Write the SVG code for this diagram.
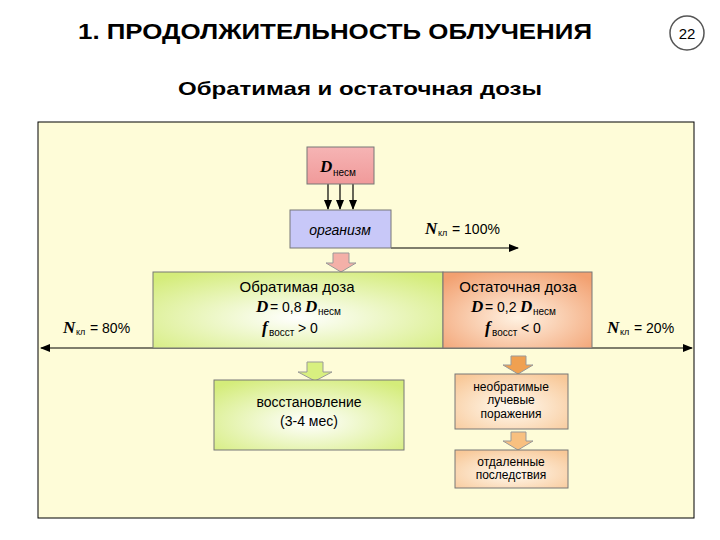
<svg xmlns="http://www.w3.org/2000/svg" width="720" height="540" viewBox="0 0 720 540">
<defs>
<marker id="ah" markerWidth="10" markerHeight="8" refX="9" refY="4" orient="auto" markerUnits="userSpaceOnUse"><path d="M0,0 L10,4 L0,8 z" fill="#000"/></marker>
<radialGradient id="gg" cx="0.5" cy="0.6" r="0.7"><stop offset="0" stop-color="#ffffff"/><stop offset="1" stop-color="#d4ec7a"/></radialGradient>
<radialGradient id="go" cx="0.5" cy="0.6" r="0.7"><stop offset="0" stop-color="#fff2e2"/><stop offset="1" stop-color="#f2a070"/></radialGradient>
<radialGradient id="gl" cx="0.5" cy="0.6" r="0.7"><stop offset="0" stop-color="#fffaf0"/><stop offset="1" stop-color="#f8c898"/></radialGradient>
<linearGradient id="gp" x1="0" y1="0" x2="0" y2="1"><stop offset="0" stop-color="#f6b4b4"/><stop offset="1" stop-color="#f09a9a"/></linearGradient>
</defs>
<style>
text{font-family:"Liberation Sans",Arial,sans-serif;fill:#000}
.b{font-weight:bold}
.s{font-family:"Liberation Serif","Times New Roman",serif;font-weight:bold;font-style:italic}
.box{stroke:#777;stroke-width:1}
.ln{stroke:#000;stroke-width:1.2;fill:none}
</style>
<rect width="720" height="540" fill="#fff"/>
<text x="78" y="39" font-size="22" class="b" fill="#222" textLength="514" lengthAdjust="spacingAndGlyphs">1. ПРОДОЛЖИТЕЛЬНОСТЬ ОБЛУЧЕНИЯ</text>
<circle cx="687" cy="33" r="17" fill="#fff" stroke="#555" stroke-width="1.5"/>
<text x="687" y="39" font-size="15" text-anchor="middle">22</text>
<text x="178" y="95" font-size="19" class="b" textLength="364" lengthAdjust="spacingAndGlyphs">Обратимая и остаточная дозы</text>
<rect x="38" y="122" width="656" height="396" fill="#fefcd8" stroke="#000"/>
<g id="connectors">
<line class="ln" x1="328" y1="184" x2="328" y2="209" marker-end="url(#ah)"/>
<line class="ln" x1="340" y1="184" x2="340" y2="209" marker-end="url(#ah)" stroke-width="2"/>
<line class="ln" x1="353" y1="184" x2="353" y2="209" marker-end="url(#ah)"/>
<line class="ln" x1="391" y1="248" x2="518" y2="248" marker-end="url(#ah)"/>
<line class="ln" x1="360" y1="348" x2="41" y2="348" marker-end="url(#ah)"/>
<line class="ln" x1="360" y1="348" x2="692" y2="348" marker-end="url(#ah)"/>
<path d="M333,253 H349 V263 H356 L341,272 L326,263 H333 Z" fill="#f4b0a8" stroke="#999"/>
<path d="M307,362 H323 V372 H332 L315,381 L298,372 H307 Z" fill="#d8f080" stroke="#999"/>
<path d="M511,356 H526 V365 H533 L518,374 L503,365 H511 Z" fill="#f0a050" stroke="#999"/>
<path d="M511,432 H526 V441 H533 L518,450 L503,441 H511 Z" fill="#f8c080" stroke="#999"/>
</g>
<g id="dnesm"><rect class="box" x="307" y="147" width="67" height="37" fill="url(#gp)"/>
<text x="320" y="172" font-size="17" class="s">D</text><text x="333" y="176" font-size="10">несм</text></g>
<g id="organizm"><rect class="box" x="290" y="210" width="101" height="38" fill="#c8c8f8"/>
<text x="340" y="235" font-size="14" font-style="italic" text-anchor="middle">организм</text></g>
<g id="nkl100"><text x="425" y="234" font-size="17" class="s">N</text><text x="438" y="236" font-size="9">кл</text><text x="452" y="234" font-size="14">= 100%</text></g>
<g id="obr"><rect class="box" x="153" y="272" width="290" height="76" fill="url(#gg)"/>
<text x="297" y="292" font-size="15" text-anchor="middle">Обратимая доза</text>
<text x="256" y="312" font-size="17" class="s">D</text><text x="270" y="312" font-size="14">= 0,8</text><text x="305" y="312" font-size="17" class="s">D</text><text x="318" y="315" font-size="10">несм</text>
<text x="262" y="333" font-size="17" class="s">f</text><text x="269" y="336" font-size="10">восст</text><text x="298" y="333" font-size="14">&gt; 0</text></g>
<g id="ost"><rect class="box" x="443" y="272" width="149" height="76" fill="url(#go)"/>
<text x="518" y="292" font-size="15" text-anchor="middle">Остаточная доза</text>
<text x="471" y="312" font-size="17" class="s">D</text><text x="485" y="312" font-size="14">= 0,2</text><text x="520" y="312" font-size="17" class="s">D</text><text x="533" y="315" font-size="10">несм</text>
<text x="485" y="333" font-size="17" class="s">f</text><text x="492" y="336" font-size="10">восст</text><text x="521" y="333" font-size="14">&lt; 0</text></g>
<g id="nkl80"><text x="63" y="333" font-size="17" class="s">N</text><text x="76" y="335" font-size="9">кл</text><text x="90" y="333" font-size="14">= 80%</text></g>
<g id="nkl20"><text x="607" y="333" font-size="17" class="s">N</text><text x="620" y="335" font-size="9">кл</text><text x="634" y="333" font-size="14">= 20%</text></g>
<g id="vosst"><rect class="box" x="214" y="380" width="190" height="70" fill="url(#gg)"/>
<text x="309" y="407" font-size="14" text-anchor="middle">восстановление</text>
<text x="309" y="426" font-size="14" text-anchor="middle">(3-4 мес)</text></g>
<g id="neobr"><rect class="box" x="455" y="374" width="113" height="55" fill="url(#gl)"/>
<text x="511" y="391" font-size="12" text-anchor="middle">необратимые</text>
<text x="511" y="404" font-size="12" text-anchor="middle">лучевые</text>
<text x="511" y="418" font-size="12" text-anchor="middle">поражения</text></g>
<g id="otdal"><rect class="box" x="455" y="450" width="113" height="38" fill="url(#gl)"/>
<text x="511" y="466" font-size="12" text-anchor="middle">отдаленные</text>
<text x="511" y="479" font-size="12" text-anchor="middle">последствия</text></g>
</svg>
